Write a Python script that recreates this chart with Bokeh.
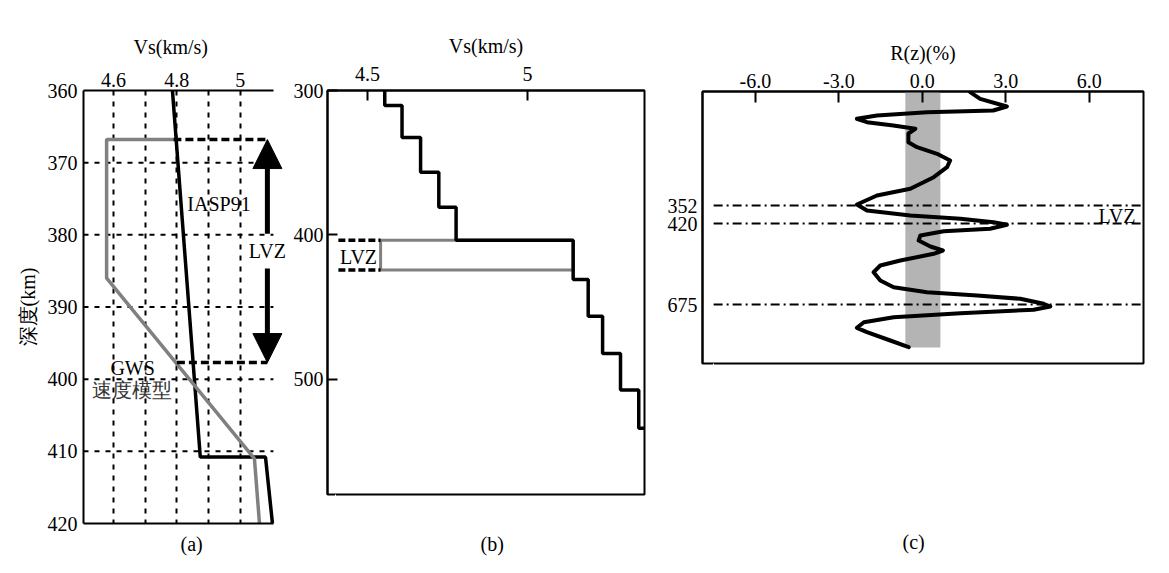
from bokeh.plotting import figure
from bokeh.layouts import row
from bokeh.models import (Range1d, LinearAxis, FixedTicker, Label, Arrow, NormalHead,
                          PrintfTickFormatter, Title)
from bokeh.embed import file_html
from bokeh.resources import INLINE

FONT = "Liberation Serif"
FS = "20px"

# ---------------- data: panel (a) ----------------
a_iasp_vs = [4.786, 4.874, 5.080, 5.102]
a_iasp_depth = [360, 410.8, 410.8, 420]
a_gws_vs = [4.789, 4.578, 4.578, 5.045, 5.061]
a_gws_depth = [366.8, 366.8, 386.0, 411.0, 420]
a_lvz_depth = [366.8, 397.7]
a_lvz_vs_start = [4.789, 4.80]
a_lvz_vs_end = 5.086
a_xticks = [4.6, 4.8, 5.0]
a_xtick_labels = ["4.6", "4.8", "5"]
a_grid_vs = [4.6, 4.7, 4.8, 4.9, 5.0]
a_yticks = [360, 370, 380, 390, 400, 410, 420]
a_grid_depth = [370, 380, 390, 400, 410]
a_vs_bounds = (4.505, 5.105)

# ---------------- data: panel (b) ----------------
b_layer_top = [300, 310.4, 332.5, 356.7, 381.0, 403.8, 431.0, 456.4, 482.2, 507.6, 534.1]
b_layer_vs = [4.554, 4.608, 4.666, 4.723, 4.777, 5.143, 5.190, 5.235, 5.291, 5.348, 5.40]
b_bottom = 580
b_lvz_depth = [403.8, 424.4]
b_lvz_vs = 4.541
b_xticks = [4.5, 5.0]
b_xtick_labels = ["4.5", "5"]
b_yticks = [300, 400, 500]

# ---------------- data: panel (c) ----------------
c_R = [1.72, 2.08, 3.04, 2.55, 0.17, -1.63, -2.35, -1.99, -1.04, -0.25,
       -0.5, -0.5, -0.19, 0.53, 1.0, 0.89, 0.41, -0.43, -1.63, -2.35,
       -1.99, -0.43, 1.37, 2.56, 3.04, 2.44, 0.77, -0.07, -0.13, 0.29,
       0.74, 0.41, -0.79, -1.51, -1.75, -1.51, -1.03, 0.17, 1.97, 3.52,
       4.36, 4.6, 4.0, 1.37, -1.03, -2.1, -2.35, -1.99, -1.15, -0.49]
c_t = [0.07, 0.73, 1.5, 1.9, 2.07, 2.4, 2.73, 3.07, 3.4, 3.73,
       4.2, 5.07, 5.57, 6.23, 6.9, 7.57, 8.57, 9.73, 10.4, 11.3,
       11.9, 12.4, 12.73, 13.07, 13.33, 13.73, 13.97, 14.4, 14.9, 15.5,
       15.9, 16.23, 16.9, 17.4, 18.07, 18.9, 19.57, 20.07, 20.4, 20.73,
       21.23, 21.5, 21.83, 22.17, 22.57, 23.07, 23.63, 24.07, 24.9, 25.57]
c_band_R = [-0.61, 0.65]
c_band_t_end = 25.6
c_mark_t = [11.4, 13.2, 21.3]
c_mark_labels = ["352", "420", "675"]
c_xticks = [-6.0, -3.0, 0.0, 3.0, 6.0]


def style_axis(ax):
    ax.major_label_text_font = FONT
    ax.major_label_text_font_size = FS
    ax.major_label_text_color = "black"
    ax.axis_label_text_font = FONT
    ax.axis_label_text_font_size = FS
    ax.axis_label_text_font_style = "normal"
    ax.axis_label_text_color = "black"
    ax.axis_line_color = "black"
    ax.axis_line_width = 2
    ax.minor_tick_line_color = None
    ax.major_tick_line_color = "black"
    ax.major_tick_line_width = 2


def spine_axis(p, bounds):
    """Below axis without ticks or labels: only draws the bottom spine."""
    ax = LinearAxis(ticker=FixedTicker(ticks=[]))
    style_axis(ax)
    ax.major_tick_line_color = None
    ax.major_tick_out = 0
    ax.major_tick_in = 0
    ax.major_label_standoff = 0
    ax.major_label_text_font_size = "0px"
    ax.bounds = bounds
    p.add_layout(ax, "below")
    return ax


def spacer_axis(p, at, space):
    """Invisible below axis (one white tick, no label) that reserves vertical space."""
    ax = LinearAxis(ticker=FixedTicker(ticks=[at]))
    style_axis(ax)
    ax.axis_line_color = None
    ax.major_tick_line_color = "white"
    ax.major_tick_line_width = 1
    ax.major_tick_out = space
    ax.major_tick_in = 0
    ax.major_label_standoff = 0
    ax.major_label_overrides = {at: ""}
    ax.major_label_text_font_size = "0px"
    p.add_layout(ax, "below")
    return ax


def title(p, text, side, offset, standoff, valign):
    p.add_layout(Title(text=text, align="left", offset=offset, standoff=standoff,
                       vertical_align=valign, text_font=FONT, text_font_size=FS,
                       text_font_style="normal", text_color="black"), side)


def label(p, x, y, text, align="left", style="normal", color="black"):
    p.add_layout(Label(x=x, y=y, text=text, text_font=FONT,
                       text_font_size=FS, text_font_style=style, text_align=align,
                       text_baseline="middle", text_color=color))


# ================= panel (a) =================
pa = figure(width=290, height=569, x_range=Range1d(4.505, 5.159), y_range=Range1d(420, 360),
            x_axis_location="above", output_backend="svg", toolbar_location=None,
            min_border_left=83, min_border_right=0, min_border_top=90, min_border_bottom=46)
pa.frame_align = False
pa.outline_line_color = None
xa = pa.xaxis[0]
style_axis(xa)
xa.ticker = FixedTicker(ticks=a_xticks)
xa.major_label_overrides = dict(zip(a_xticks, a_xtick_labels))
xa.major_tick_line_color = None
xa.major_tick_out = 0
xa.major_tick_in = 0
xa.major_label_standoff = 4
xa.bounds = a_vs_bounds
title(pa, "Vs(km/s)", "above", 50, 23, "bottom")
ya = pa.yaxis[0]
style_axis(ya)
ya.ticker = FixedTicker(ticks=a_yticks)
ya.major_tick_line_color = None
ya.major_tick_out = 0
ya.major_tick_in = 0
ya.major_label_standoff = 6
ya.axis_label = "深度(km)"
ya.axis_label_standoff = 6
spine_axis(pa, a_vs_bounds)
title(pa, "(a)", "below", 97, 18, "top")

pa.xgrid.ticker = FixedTicker(ticks=a_grid_vs)
pa.xgrid.grid_line_color = "black"
pa.xgrid.grid_line_width = 2
pa.xgrid.grid_line_dash = "5 6"
pa.ygrid.visible = False
pa.segment(x0=[a_vs_bounds[0]] * len(a_grid_depth), y0=a_grid_depth,
           x1=[a_vs_bounds[1]] * len(a_grid_depth), y1=a_grid_depth,
           line_color="black", line_width=2, line_dash="5 6")

pa.line(a_iasp_vs, a_iasp_depth, line_color="black", line_width=3.5)
pa.line(a_gws_vs, a_gws_depth, line_color="#808080", line_width=3.5)
pa.segment(x0=a_lvz_vs_start, y0=a_lvz_depth, x1=[a_lvz_vs_end] * 2, y1=a_lvz_depth,
           line_color="black", line_width=3.5, line_dash="8 4")
lvz_mid = (a_lvz_depth[0] + a_lvz_depth[1]) / 2
pa.add_layout(Arrow(end=NormalHead(size=29, fill_color="black", line_color="black"),
                    x_start=a_lvz_vs_end, y_start=lvz_mid - 2.4, x_end=a_lvz_vs_end,
                    y_end=a_lvz_depth[0], line_width=5, line_color="black"))
pa.add_layout(Arrow(end=NormalHead(size=29, fill_color="black", line_color="black"),
                    x_start=a_lvz_vs_end, y_start=lvz_mid + 2.4, x_end=a_lvz_vs_end,
                    y_end=a_lvz_depth[1], line_width=5, line_color="black"))
label(pa, a_lvz_vs_end, lvz_mid, "LVZ", align="center")
label(pa, 4.833, 375.7, "IASP91")
label(pa, 4.59, 398.4, "GWS")
label(pa, 4.533, 401.5, "速度模型", color="#333333")

# ================= panel (b) =================
pb = figure(width=370, height=565, x_range=Range1d(4.375, 5.366), y_range=Range1d(580, 300),
            x_axis_location="above", output_backend="svg", toolbar_location=None,
            min_border_left=37, min_border_right=16, min_border_top=90, min_border_bottom=71)
pb.frame_align = False
pb.outline_line_color = "black"
pb.outline_line_width = 2
pb.grid.visible = False
xb = pb.xaxis[0]
style_axis(xb)
xb.ticker = FixedTicker(ticks=b_xticks)
xb.major_label_overrides = dict(zip(b_xticks, b_xtick_labels))
xb.major_tick_out = 0
xb.major_tick_in = 10
xb.major_label_standoff = 10
xb.axis_label = "Vs(km/s)"
xb.axis_label_standoff = 7
yb = pb.yaxis[0]
style_axis(yb)
yb.ticker = FixedTicker(ticks=b_yticks)
yb.major_tick_out = 0
yb.major_tick_in = 10
yb.major_label_standoff = 4
spacer_axis(pb, 4.4, 34)
title(pb, "(b)", "below", 153, 8, "top")

step_x, step_y = [], []
bottoms = b_layer_top[1:] + [b_bottom]
for v, top, bot in zip(b_layer_vs, b_layer_top, bottoms):
    step_x += [v, v]
    step_y += [top, bot]

pb.quad(left=[b_lvz_vs], right=[b_layer_vs[5]], top=[b_lvz_depth[0]], bottom=[b_lvz_depth[1]],
        fill_color=None, line_color="#808080", line_width=3)
pb.line(step_x, step_y, line_color="black", line_width=3.5)
pb.segment(x0=[4.409] * 2, y0=b_lvz_depth, x1=[b_lvz_vs] * 2, y1=b_lvz_depth,
           line_color="black", line_width=3.5, line_dash="7 3")
label(pb, 4.472, 415.4, "LVZ", align="center")

# ================= panel (c) =================
pc = figure(width=501, height=565, x_range=Range1d(-7.9, 7.95), y_range=Range1d(27.2, 0),
            x_axis_location="above", output_backend="svg", toolbar_location=None,
            min_border_left=42, min_border_right=18, min_border_top=91, min_border_bottom=202)
pc.frame_align = False
pc.outline_line_color = "black"
pc.outline_line_width = 2
pc.grid.visible = False
xc = pc.xaxis[0]
style_axis(xc)
xc.ticker = FixedTicker(ticks=c_xticks)
xc.formatter = PrintfTickFormatter(format="%.1f")
xc.major_tick_out = 0
xc.major_tick_in = 11
xc.major_label_standoff = 4
xc.axis_label = "R(z)(%)"
xc.axis_label_standoff = 7
yc = pc.yaxis[0]
style_axis(yc)
yc.ticker = FixedTicker(ticks=c_mark_t)
yc.major_label_overrides = dict(zip(c_mark_t, c_mark_labels))
yc.major_tick_line_color = None
yc.major_tick_out = 0
yc.major_tick_in = 0
yc.major_label_standoff = 5
spacer_axis(pc, -7.5, 163)
title(pc, "(c)", "below", 200, 8, "top")

pc.quad(left=[c_band_R[0]], right=[c_band_R[1]], top=[0], bottom=[c_band_t_end],
        fill_color="#b4b4b4", line_color=None)
pc.segment(x0=[-7.5] * 3, y0=c_mark_t, x1=[7.85] * 3, y1=c_mark_t,
           line_color="black", line_width=2, line_dash="9 4 2 4")
pc.line(c_R, c_t, line_color="black", line_width=4, line_join="round", line_cap="round")
label(pc, 6.33, 12.4, "LVZ")

layout = row(pa, pb, pc)
open("out.html", "w").write(file_html(layout, INLINE))
